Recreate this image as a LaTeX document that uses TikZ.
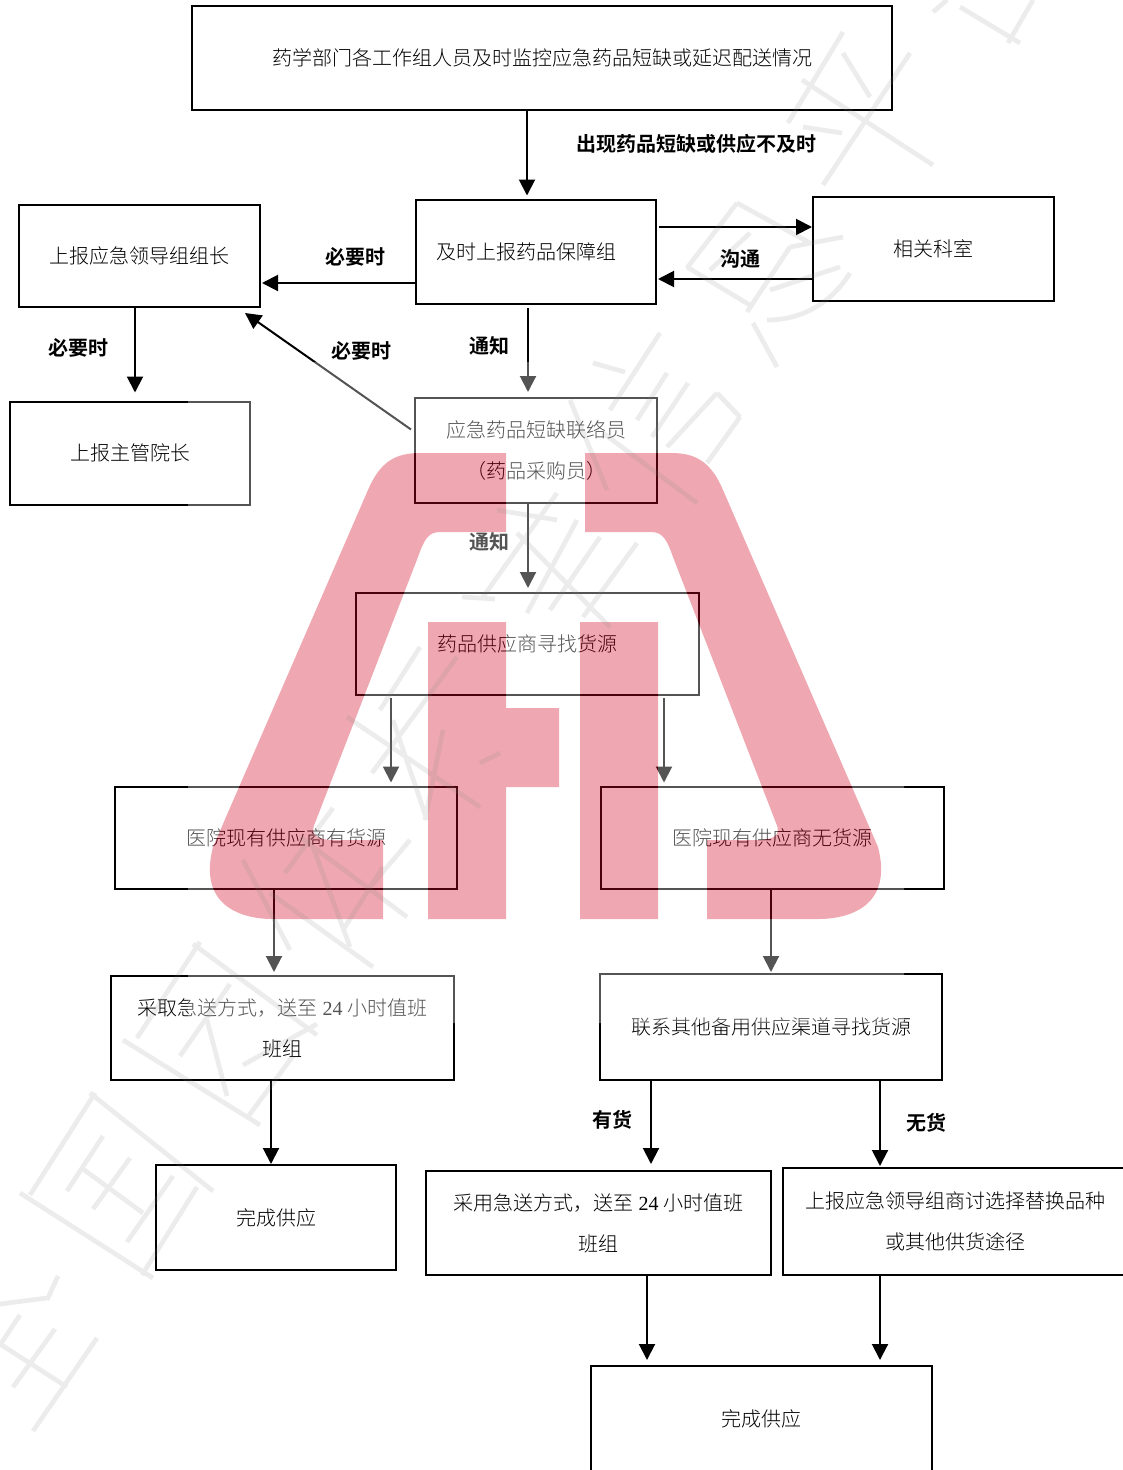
\documentclass[tikz,border=0pt]{standalone}
\usepackage{fontspec}
\setmainfont{Noto Sans CJK SC}[UprightFont=* Light,BoldFont=* Bold]
\newfontfamily\latinnum{Liberation Serif}
\newcommand{\numtxt}[1]{{\latinnum\ #1\ }}
\newcommand{\dn}[1]{\raisebox{-0.75pt}{#1}}
\usetikzlibrary{arrows.meta}
\definecolor{logored}{RGB}{211,6,34}
\definecolor{wmgray}{RGB}{128,128,128}
\def\logopath{
  (420,453) -- (506,453) -- (506,532) -- (440,532) .. controls (428,532) and (424,540) .. (418,557)
  -- (315,823) .. controls (309,836) and (318,840) .. (335,840) -- (383,840) -- (383,919) -- (273,919)
  .. controls (240,919) and (198,905) .. (213,847) -- (368,490) .. controls (380,462) and (395,453) .. (420,453) -- cycle
  (428,622) -- (506,622) -- (506,708) -- (559,708) -- (559,787) -- (506,787) -- (506,919) -- (428,919) -- cycle
  (580,622) -- (658,622) -- (658,919) -- (580,919) -- cycle
  (585,453) -- (671,453) .. controls (696,453) and (711,462) .. (723,490) -- (878,847)
  .. controls (893,905) and (851,919) .. (818,919) -- (707,919) -- (707,840) -- (756,840)
  .. controls (773,840) and (782,836) .. (776,823) -- (673,557) .. controls (667,540) and (663,532) .. (651,532)
  -- (585,532) -- cycle
}
\tikzset{
  box/.style={draw=black,line width=1.5pt,inner sep=0pt,outer sep=0pt,align=center,
    font=\fontsize{15pt}{30.75pt}\selectfont},
  sz/.style 2 args={minimum width=#1*0.75pt,minimum height=#2*0.75pt},
  lbl/.style={inner sep=0pt,font=\fontsize{15pt}{18pt}\selectfont\bfseries},
  arr/.style={draw=black,line width=1.5pt,-{Triangle[length=12pt,width=12pt]}},
  gap/.style={shorten >=#1*0.75pt},
  sgap/.style={shorten <=#1*0.75pt},
  wash/.style={fill=white,fill opacity=.33,even odd rule},
  logofill/.style={fill=logored,fill opacity=.35},
  wmark/.style={draw=wmgray,draw opacity=.15,line width=3.5pt,line cap=butt}
}
\begin{document}
\begin{tikzpicture}[x=0.75pt,y=-0.75pt]
\useasboundingbox (0,0) rectangle (1123,1470);
\fill[white] (0,0) rectangle (1123,1470);
% boxes
\node[box,sz={700}{104}] (top) at (542,58) {\dn{药学部门各工作组人员及时监控应急药品短缺或延迟配送情况}};
\node[box,sz={240}{104}] (bao) at (536,251.5) {及时上报药品保障组\hspace{15pt}};
\node[box,sz={241}{102}] (lead) at (139.5,256) {上报应急领导组组长};
\node[box,sz={241}{104}] (dept) at (933.5,249) {\dn{相关科室}};
\node[box,sz={240}{103}] (vp) at (130,453) {\dn{上报主管院长}};
\node[box,sz={242}{105}] (ying) at (536,450.5) {应急药品短缺联络员\\（药品采购员）};
\node[box,sz={343}{102}] (sup) at (527.5,644) {\dn{药品供应商寻找货源}};
\node[box,sz={342}{102}] (yes) at (286,837.5) {\dn{医院现有供应商有货源}};
\node[box,sz={343}{102}] (no) at (772.5,837.5) {\dn{医院现有供应商无货源}};
\node[box,sz={343}{104}] (take) at (282.5,1028) {采取急送方式，送至\numtxt{24}小时值班\\班组};
\node[box,sz={342}{106}] (other) at (771,1027) {\dn{联系其他备用供应渠道寻找货源}};
\node[box,sz={240}{105}] (done) at (276,1217.5) {完成供应};
\node[box,sz={345}{104}] (use) at (598.5,1223) {采用急送方式，送至\numtxt{24}小时值班\\班组};
\node[box,sz={344}{107}] (alt) at (955,1221.5) {\dn{上报应急领导组商讨选择替换品种}\\\dn{或其他供货途径}};
\node[box,sz={341}{106}] (done2) at (761.5,1419) {完成供应};
% labels
\node[lbl] (l1) at (696,144) {出现药品短缺或供应不及时};
\node[lbl] (l2) at (355,257) {必要时};
\node[lbl] (l3) at (740,259) {沟通};
\node[lbl] (l4) at (489,346) {通知};
\node[lbl] (l5) at (361,351) {必要时};
\node[lbl] (l6) at (78,348) {必要时};
\node[lbl] (l7) at (489,542) {通知};
\node[lbl] (l8) at (612,1120) {有货};
\node[lbl] (l9) at (926,1123) {无货};
% connectors
\draw[arr,gap=4] (top.south -| 527,0) -- (bao.north -| 527,0);
\draw[arr,gap=2] (bao.west |- 0,283) -- (lead.east |- 0,283);
\draw[arr,sgap=3,gap=1] (bao.east |- 0,227) -- (dept.west |- 0,227);
\draw[arr,gap=2] (dept.west |- 0,279) -- (bao.east |- 0,279);
\draw[arr,gap=9] (lead.south -| 135,0) -- (vp.north -| 135,0);
\draw[arr] ([shift={(-4,-21)}]ying.west) -- ([shift={(-15,6)}]lead.south east);
\draw[arr,sgap=4,gap=6] (bao.south -| 528,0) -- (ying.north -| 528,0);
\draw[arr,gap=5] (ying.south -| 528,0) -- (sup.north -| 528,0);
\draw[arr,sgap=3,gap=4] (sup.south -| 391,0) -- (yes.north -| 391,0);
\draw[arr,sgap=3,gap=4] (sup.south -| 664,0) -- (no.north -| 664,0);
\draw[arr,gap=4] (yes.south -| 274,0) -- (take.north -| 274,0);
\draw[arr,gap=2] (no.south -| 771,0) -- (other.north -| 771,0);
\draw[arr,gap=1] (take.south -| 271,0) -- (done.north -| 271,0);
\draw[arr,gap=7] (other.south -| 651,0) -- (use.north -| 651,0);
\draw[arr,gap=2] (other.south -| 880,0) -- (alt.north -| 880,0);
\draw[arr,gap=6] (use.south -| 647,0) -- (done2.north -| 647,0);
\draw[arr,gap=6] (alt.south -| 880,0) -- (done2.north -| 880,0);
% pale wash and logo of the stamp
\path[wash] (188,362) rectangle (904,1023) \logopath;
\path[logofill] \logopath;
% faint diagonal stamp strokes
\path[wmark]
  (20,1193) -- (153,1278) (30,1195) -- (95,1093) (90,1093) -- (213,1191) (197,1187) -- (142,1275)
  (103,1136) -- (67,1191) (130,1158) -- (93,1209) (173,1176) -- (127,1242) (83,1169) -- (143,1213)
  (123,1040) -- (260,1125) (200,942) -- (137,1038) (193,944) -- (317,1035) (293,1056) -- (247,1118)
  (230,984) -- (180,1056) (207,1020) -- (227,1096) (243,1065) -- (317,1024)
  (0,1304) -- (47,1298) (58,1276) -- (47,1300) (0,1344) -- (67,1387) (55,1329) -- (13,1387)
  (97,1338) -- (33,1431) (20,1315) -- (0,1345)
  (843,32) -- (788,123) (910,53) -- (823,185) (802,80) -- (933,165) (843,53) -- (870,97) (803,127) -- (842,133)
  (1033,0) -- (1008,43) (960,7) -- (1020,43) (947,0) -- (933,12)
  (737,203) -- (687,268) (737,203) -- (810,243) (843,237) -- (790,247) (687,267) -- (753,307)
  (790,247) -- (747,312) (850,273) .. controls (830,305) and (800,320) .. (767,320)
  (750,233) -- (710,270) (770,290) -- (840,267)
  (753,323) -- (777,367)
  (660,333) -- (610,410) (593,363) -- (625,372) (667,373) -- (637,420) (688,383) -- (652,437)
  (717,393) -- (667,447) (717,393) -- (740,417) (740,417) -- (707,463) (570,400) -- (607,490) (603,433) -- (697,503)
  (557,493) -- (483,597) (497,510) -- (557,520) (577,520) -- (527,613) (600,537) -- (550,610)
  (637,543) -- (583,617) (517,533) -- (610,627) (462,597) -- (495,599)
  (420,647) -- (380,710) (457,657) -- (372,773) (347,717) -- (480,807) (393,720) -- (427,820)
  (443,730) -- (425,820) (480,763) -- (500,753)
  (333,808) -- (285,873) (300,837) -- (407,917) (410,840) -- (370,887) (313,847) -- (350,947)
  (383,867) -- (343,930) (243,860) -- (290,950) (270,893) -- (373,967);
\end{tikzpicture}
\end{document}
